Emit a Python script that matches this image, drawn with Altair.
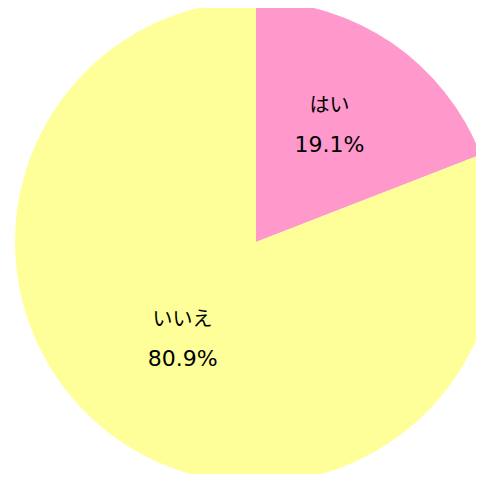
import altair as alt
import pandas as pd

categories = ["はい", "いいえ"]
values = [19.1, 80.9]
labels = ["19.1%", "80.9%"]
colors = ["#FF99CC", "#FFFF99"]

df = pd.DataFrame({"cat": categories, "val": values, "pct": labels,
                   "order": list(range(len(categories)))})

CX, CY = 248, 234

base = alt.Chart(df).encode(
    theta=alt.Theta("val:Q", stack=True),
    order=alt.Order("order:Q"),
)

pie = base.mark_arc(outerRadius=241, x=CX, y=CY).encode(
    color=alt.Color("cat:N", scale=alt.Scale(domain=categories, range=colors), legend=None)
)

font = "Verdana, DejaVu Sans"
name_txt = base.mark_text(radius=130, x=CX, y=CY, dy=-29, fontSize=20,
                          font="Noto Sans CJK JP", color="#000000").encode(text="cat:N")
pct_txt = base.mark_text(radius=130, x=CX, y=CY, dy=10, fontSize=22,
                         font=font, color="#000000").encode(text="pct:N")

chart = alt.layer(pie, name_txt, pct_txt).properties(
    width=468, height=466, padding=0, autosize=alt.AutoSizeParams(type="none")
).configure_view(stroke=None).configure(background="white")

chart.save("out.html", embed_options={"renderer": "svg", "actions": False})
